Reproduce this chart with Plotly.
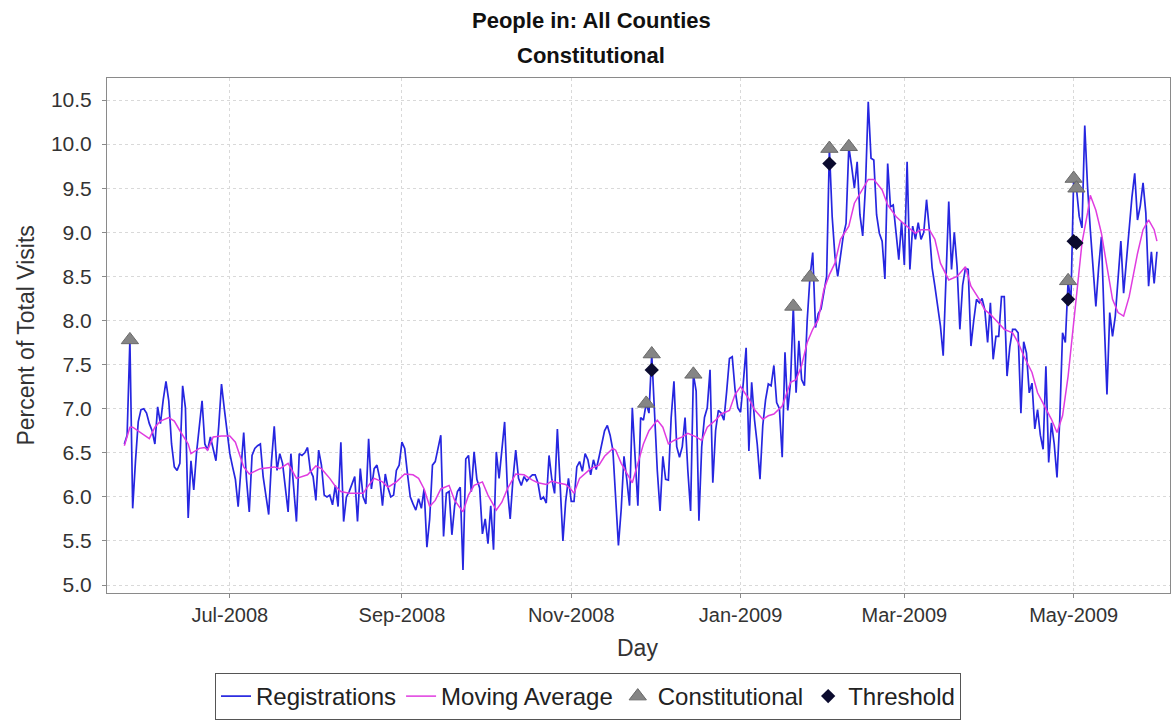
import pandas as pd
import plotly.graph_objects as go

# ---- data -------------------------------------------------------------
start_date = "2008-05-24"

# daily registrations, percent of total visits (one value per day from start_date)
registrations = [
    6.6, 6.7, 7.78, 5.87, 6.4, 6.85, 6.99, 7.0, 6.95, 6.83,
    6.75, 6.6, 7.02, 6.83, 7.1, 7.31, 7.09, 6.6, 6.34, 6.3,
    6.38, 7.26, 7.01, 5.76, 6.41, 6.08, 6.5, 6.8, 7.09, 6.6,
    6.53, 6.68, 6.55, 6.41, 6.8, 7.28, 7.0, 6.75, 6.49, 6.34,
    6.2, 5.89, 6.3, 6.73, 6.2, 5.83, 6.47, 6.55, 6.58, 6.6,
    6.23, 6.0, 5.8, 6.4, 6.8, 6.3, 6.49, 6.38, 6.1, 5.83,
    6.49, 6.1, 5.72, 6.49, 6.47, 6.5, 6.56, 6.3, 6.23, 5.96,
    6.53, 6.36, 6.02, 6.0, 6.02, 5.91, 6.13, 5.89, 6.62, 5.72,
    6.0, 6.06, 6.15, 6.23, 5.72, 6.32, 6.0, 5.92, 6.66, 6.09,
    6.32, 6.36, 6.21, 5.9, 6.26, 6.1, 6.0, 6.02, 6.3, 6.36,
    6.62, 6.55, 6.26, 6.0, 5.92, 5.85, 5.98, 5.87, 6.09, 5.43,
    5.75, 6.36, 6.4, 6.55, 6.7, 5.55, 6.04, 6.06, 5.57, 5.9,
    6.06, 6.11, 5.17, 6.43, 6.47, 6.06, 6.51, 6.2, 6.1, 5.58,
    5.75, 5.47, 5.9, 5.4, 6.51, 6.21, 6.5, 6.85, 6.09, 5.75,
    6.2, 6.53, 6.21, 6.13, 6.23, 6.18, 6.22, 6.25, 6.25, 6.16,
    5.97, 6.0, 5.93, 6.47, 6.2, 6.04, 6.77, 6.1, 5.5, 5.95,
    6.21, 5.95, 5.95, 6.34, 6.4, 6.29, 6.49, 6.42, 6.25, 6.42,
    6.31, 6.45, 6.6, 6.75, 6.81, 6.7, 6.53, 6.0, 5.45, 5.86,
    6.46, 6.2, 5.9, 7.01, 6.4, 5.9, 6.9, 6.87, 7.06, 6.95,
    7.62, 6.92, 6.3, 5.84, 6.46, 6.2, 6.19, 6.9, 7.31, 6.57,
    6.45, 6.57, 6.9, 6.3, 5.84, 7.39, 7.2, 5.73, 6.57, 6.9,
    7.01, 7.44, 6.16, 6.75, 6.98, 6.95, 6.87, 7.2, 7.57, 7.59,
    7.22, 7.01, 6.96, 7.3, 7.69, 6.52, 7.3, 6.88, 6.6, 6.2,
    6.81, 7.1, 7.28, 7.26, 7.49, 7.07, 7.0, 6.45, 7.64, 6.98,
    7.3, 8.16, 7.18, 7.77, 7.33, 7.26, 8.0, 8.49, 8.77, 7.92,
    8.08, 8.13, 8.3, 8.5, 9.95, 9.18, 8.73, 8.5, 8.73, 8.96,
    9.1, 9.97, 9.75, 9.5, 9.8, 9.2, 8.96, 9.52, 10.48, 9.84,
    9.82, 9.2, 8.99, 8.9, 8.47, 9.78, 9.29, 9.31, 9.0, 8.69,
    9.12, 8.63, 9.8, 8.58, 9.07, 8.92, 9.11, 8.92, 9.0, 9.37,
    9.03, 8.6, 8.39, 8.13, 7.94, 7.6, 8.5, 9.35, 8.58, 9.0,
    8.61, 7.9, 8.4, 8.59, 8.58, 7.71, 8.0, 8.24, 8.2, 8.25,
    8.12, 7.75, 8.2, 7.56, 7.82, 7.82, 8.27, 8.27, 7.37, 7.7,
    7.9, 7.9, 7.86, 6.95, 7.76, 7.63, 7.18, 7.29, 6.77, 6.99,
    6.7, 6.54, 7.48, 6.39, 6.84, 6.6, 6.22, 6.88, 7.86, 7.75,
    8.45, 8.2, 9.61, 9.5, 9.18, 9.05, 10.21, 9.52, 9.03, 8.6,
    8.16, 8.6, 8.95, 8.0, 7.16, 8.09, 7.82, 8.05, 8.5, 8.9,
    8.31, 8.69, 9.1, 9.4, 9.67, 9.14, 9.3, 9.56, 9.22, 8.39,
    8.78, 8.42, 8.78,
]

# moving average (day offset from start_date, value)
ma_days = [
    0, 2, 3, 5, 7, 9, 11, 13, 16, 18, 20, 23, 24, 27, 29, 30, 32, 35, 38, 40,
    43, 45, 49, 54, 56, 59, 62, 66, 69, 71, 74, 76, 78, 81, 83, 86, 88, 90, 93, 95,
    98, 101, 104, 106, 108, 110, 112, 114, 117, 119, 122, 124, 126, 129, 131, 134, 136, 138, 141, 144,
    147, 149, 152, 154, 156, 159, 161, 162, 164, 166, 168, 171, 173, 176, 177, 179, 182, 183, 185, 187,
    189, 192, 194, 196, 198, 201, 203, 206, 208, 210, 213, 215, 218, 220, 222, 225, 227, 230, 232, 234,
    237, 239, 240, 242, 244, 246, 248, 250, 252, 254, 256, 258, 261, 263, 266, 268, 270, 273, 275, 278,
    280, 282, 285, 287, 290, 292, 294, 297, 300, 303, 305, 308, 310, 312, 315, 317, 320, 322, 324, 327,
    329, 332, 334, 336, 338, 340, 342, 344, 345, 347, 348, 350, 352, 354, 356, 358, 360, 362, 365, 367,
    369, 371, 372,
]
ma_values = [
    6.58, 6.79, 6.79, 6.75, 6.71, 6.66, 6.79, 6.86, 6.9, 6.86, 6.75, 6.6, 6.49, 6.55, 6.56, 6.53, 6.68, 6.69, 6.69, 6.62,
    6.34, 6.26, 6.32, 6.34, 6.32, 6.38, 6.21, 6.25, 6.35, 6.32, 6.21, 6.12, 6.06, 6.04, 6.04, 6.04, 6.13, 6.21, 6.17, 6.11,
    6.17, 6.26, 6.25, 6.21, 6.09, 5.89, 5.96, 6.09, 6.13, 5.96, 5.83, 6.02, 6.13, 6.17, 6.02, 5.85, 5.94, 6.09, 6.26, 6.25,
    6.19, 6.16, 6.14, 6.18, 6.16, 6.14, 6.08, 6.04, 6.21, 6.27, 6.32, 6.36, 6.46, 6.55, 6.53, 6.38, 6.21, 6.16, 6.38, 6.6,
    6.75, 6.87, 6.79, 6.6, 6.64, 6.68, 6.72, 6.68, 6.64, 6.79, 6.87, 6.94, 6.98, 7.16, 7.25, 7.11, 6.99, 6.88, 6.92, 6.94,
    7.03, 7.22, 7.3, 7.33, 7.49, 7.75, 7.9, 8.01, 8.35, 8.52, 8.65, 8.92, 9.07, 9.33, 9.5, 9.6, 9.6, 9.48, 9.31, 9.18,
    9.12, 9.07, 8.99, 9.03, 9.03, 8.92, 8.65, 8.46, 8.5, 8.61, 8.39, 8.24, 8.12, 8.07, 7.97, 7.9, 7.86, 7.75, 7.6, 7.41,
    7.18, 6.99, 6.88, 6.73, 6.92, 7.37, 7.97, 8.58, 8.88, 9.22, 9.42, 9.25, 8.99, 8.61, 8.24, 8.09, 8.05, 8.27, 8.76, 9.03,
    9.14, 9.03, 8.9,
]

# alert points
constitutional_days = [2, 188, 190, 205, 241, 247, 254, 261, 340, 342, 343]
constitutional_values = [7.78, 7.06, 7.62, 7.39, 8.16, 8.49, 9.95, 9.97, 8.45, 9.61, 9.5]
threshold_days = [190, 254, 340, 342, 343]
threshold_values = [7.44, 9.78, 8.24, 8.9, 8.88]

# axis ticks
x_tick_dates = ["2008-07-01", "2008-09-01", "2008-11-01", "2009-01-01", "2009-03-01", "2009-05-01"]
x_tick_labels = ["Jul-2008", "Sep-2008", "Nov-2008", "Jan-2009", "Mar-2009", "May-2009"]
y_tick_values = [5.0, 5.5, 6.0, 6.5, 7.0, 7.5, 8.0, 8.5, 9.0, 9.5, 10.0, 10.5]

# ---- build ------------------------------------------------------------
t0 = pd.Timestamp(start_date)
reg_dates = pd.date_range(t0, periods=len(registrations), freq="D")
ma_dates = [t0 + pd.Timedelta(days=d) for d in ma_days]
con_dates = [t0 + pd.Timedelta(days=d) for d in constitutional_days]
thr_dates = [t0 + pd.Timedelta(days=d) for d in threshold_days]

FONT = "Liberation Sans, Arial, Helvetica, sans-serif"

fig = go.Figure()
fig.add_trace(go.Scatter(
    x=reg_dates, y=registrations, mode="lines", name="Registrations",
    line=dict(color="#2626e0", width=1.7),
))
fig.add_trace(go.Scatter(
    x=ma_dates, y=ma_values, mode="lines", name="Moving Average",
    line=dict(color="#e03ce0", width=1.5),
))
fig.add_trace(go.Scatter(
    x=con_dates, y=constitutional_values, mode="markers", name="Constitutional",
    marker=dict(symbol="triangle-up", size=15, color="#858585",
                line=dict(color="#6a6a6a", width=1)),
))
fig.add_trace(go.Scatter(
    x=thr_dates, y=threshold_values, mode="markers", name="Threshold",
    marker=dict(symbol="diamond", size=11, color="#0b0b2e"),
))

axis_common = dict(
    showline=True, linecolor="#8a8a8a", linewidth=1, mirror=True,
    showgrid=True, gridcolor="#d9d9d9", griddash="3px,3px", gridwidth=1,
    ticks="outside", ticklen=4, tickcolor="#8a8a8a",
    zeroline=False,
)

fig.update_xaxes(
    range=["2008-05-17 18:00", "2009-06-04 17:00"],
    tickvals=x_tick_dates, ticktext=x_tick_labels,
    tickfont=dict(family=FONT, size=20, color="#333333"),
    **axis_common,
)
fig.update_yaxes(
    range=[4.91, 10.75],
    tickvals=y_tick_values, tickformat=".1f",
    tickfont=dict(family=FONT, size=21, color="#333333"),
    ticklabelstandoff=6,
    **axis_common,
)

fig.update_layout(
    width=1172, height=722,
    margin=dict(l=107, r=2, t=78, b=127),
    paper_bgcolor="white", plot_bgcolor="white",
    showlegend=True,
    legend=dict(
        orientation="h", x=0.4525, y=-0.201, xanchor="center", yanchor="middle",
        font=dict(family=FONT, size=24, color="#222222"),
        bordercolor="#555555", borderwidth=1, bgcolor="white",
        itemwidth=30, tracegroupgap=0,
    ),
    annotations=[
        dict(text="<b>People in: All Counties</b>", xref="paper", yref="paper",
             x=0.4555, y=1.112, xanchor="center", yanchor="middle", showarrow=False,
             font=dict(family=FONT, size=22, color="#111111")),
        dict(text="<b>Constitutional</b>", xref="paper", yref="paper",
             x=0.4555, y=1.044, xanchor="center", yanchor="middle", showarrow=False,
             font=dict(family=FONT, size=22, color="#111111")),
        dict(text="Percent of Total Visits", xref="paper", yref="paper",
             x=-0.0771, y=0.5, xanchor="center", yanchor="middle", textangle=-90,
             showarrow=False, font=dict(family=FONT, size=23, color="#333333")),
        dict(text="Day", xref="paper", yref="paper",
             x=0.4995, y=-0.1064, xanchor="center", yanchor="middle",
             showarrow=False, font=dict(family=FONT, size=23, color="#333333")),
    ],
)

fig.write_html("out.html")
